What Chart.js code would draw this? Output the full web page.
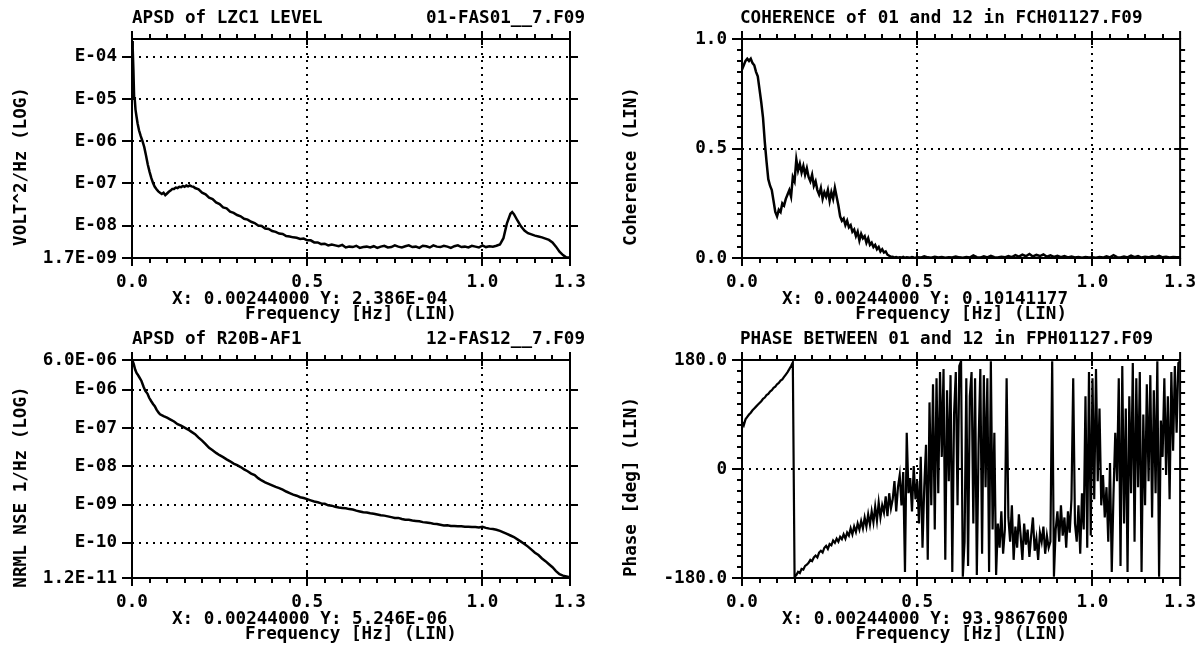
<!DOCTYPE html>
<html>
<head>
<meta charset="utf-8">
<script src="https://cdn.jsdelivr.net/npm/chart.js@4.4.1/dist/chart.umd.min.js"></script>
<style>
  html, body { margin: 0; padding: 0; background: #fff; width: 1202px; height: 649px; overflow: hidden; }
  canvas { position: absolute; }
</style>
</head>
<body>
<canvas id="c1" width="601" height="325" style="left:0px;top:0px"></canvas>
<canvas id="c2" width="601" height="325" style="left:601px;top:0px"></canvas>
<canvas id="c3" width="601" height="324" style="left:0px;top:325px"></canvas>
<canvas id="c4" width="601" height="324" style="left:601px;top:325px"></canvas>
<script>
// ---------------- DATA ----------------
const X_TICK_VALUES = [0, 0.5, 1.0, 1.25];
const X_TICK_LABELS = ['0.0', '0.5', '1.0', '1.3'];
const X_GRID_VALUES = [0.5, 1.0];

// Panel 1: APSD of LZC1 LEVEL (values as log10 of VOLT^2/Hz)
const lzcFreq = [
  0, 0.002, 0.004, 0.006, 0.008, 0.01, 0.013, 0.016, 0.02, 0.025,
  0.03, 0.035, 0.04, 0.045, 0.05, 0.055, 0.06, 0.065, 0.07, 0.075,
  0.08, 0.085, 0.09, 0.095, 0.1, 0.105, 0.11, 0.115, 0.12, 0.125,
  0.13, 0.135, 0.14, 0.145, 0.15, 0.155, 0.16, 0.165, 0.17, 0.175,
  0.18, 0.19, 0.2, 0.21, 0.22, 0.23, 0.24, 0.25, 0.26, 0.27,
  0.28, 0.29, 0.3, 0.31, 0.32, 0.33, 0.34, 0.35, 0.36, 0.37,
  0.38, 0.39, 0.4, 0.41, 0.42, 0.43, 0.44, 0.45, 0.46, 0.47,
  0.48, 0.49, 0.5, 0.51, 0.52, 0.53, 0.54, 0.55, 0.56, 0.57,
  0.58, 0.59, 0.6, 0.61, 0.62, 0.63, 0.64, 0.65, 0.66, 0.67,
  0.68, 0.69, 0.7, 0.71, 0.72, 0.73, 0.74, 0.75, 0.76, 0.77,
  0.78, 0.79, 0.8, 0.81, 0.82, 0.83, 0.84, 0.85, 0.86, 0.87,
  0.88, 0.89, 0.9, 0.91, 0.92, 0.93, 0.94, 0.95, 0.96, 0.97,
  0.98, 0.99, 1.0, 1.01, 1.02, 1.03, 1.04, 1.05, 1.06, 1.07,
  1.08, 1.085, 1.09, 1.1, 1.11, 1.12, 1.13, 1.14, 1.15, 1.16,
  1.17, 1.18, 1.19, 1.2, 1.21, 1.22, 1.23, 1.24, 1.25
];
const lzcLog10 = [
  -3.62, -3.80, -4.30, -4.95, -5.02, -5.25, -5.42, -5.58, -5.74, -5.88,
  -6.00, -6.14, -6.34, -6.55, -6.72, -6.87, -6.99, -7.08, -7.14, -7.19,
  -7.22, -7.25, -7.22, -7.28, -7.24, -7.20, -7.17, -7.13, -7.13, -7.10,
  -7.11, -7.08, -7.09, -7.06, -7.08, -7.05, -7.07, -7.05, -7.07, -7.08,
  -7.11, -7.14, -7.22, -7.26, -7.34, -7.37, -7.45, -7.49, -7.57, -7.59,
  -7.67, -7.70, -7.75, -7.78, -7.84, -7.86, -7.91, -7.94, -8.00, -8.01,
  -8.07, -8.08, -8.13, -8.15, -8.19, -8.20, -8.25, -8.26, -8.28, -8.29,
  -8.32, -8.31, -8.35, -8.35, -8.40, -8.40, -8.44, -8.43, -8.47, -8.45,
  -8.47, -8.49, -8.46, -8.52, -8.50, -8.51, -8.48, -8.53, -8.51, -8.50,
  -8.52, -8.49, -8.53, -8.50, -8.48, -8.52, -8.51, -8.47, -8.50, -8.52,
  -8.49, -8.47, -8.51, -8.50, -8.53, -8.48, -8.49, -8.52, -8.47, -8.50,
  -8.51, -8.48, -8.50, -8.53, -8.49, -8.47, -8.51, -8.50, -8.52, -8.48,
  -8.50, -8.52, -8.47, -8.51, -8.49, -8.50, -8.48, -8.45, -8.30, -7.95,
  -7.72, -7.68, -7.73, -7.88, -8.02, -8.12, -8.18, -8.21, -8.24, -8.26,
  -8.28, -8.31, -8.34, -8.40, -8.50, -8.62, -8.70, -8.76, -8.76
];
const lzcYTicks = [1.7e-9, 1e-8, 1e-7, 1e-6, 1e-5, 1e-4];
const lzcYLabels = ['1.7E-09', 'E-08', 'E-07', 'E-06', 'E-05', 'E-04'];
const lzcYGrid = [1e-8, 1e-7, 1e-6, 1e-5, 1e-4];

// Panel 2: Coherence of 01 and 12
const cohFreq = [
  0, 0.005, 0.01, 0.015, 0.02, 0.025, 0.03, 0.035, 0.04, 0.045,
  0.05, 0.055, 0.06, 0.065, 0.07, 0.075, 0.08, 0.085, 0.09, 0.095,
  0.1, 0.105, 0.11, 0.115, 0.12, 0.125, 0.13, 0.135, 0.14, 0.145,
  0.15, 0.155, 0.16, 0.165, 0.17, 0.175, 0.18, 0.185, 0.19, 0.195,
  0.2, 0.205, 0.21, 0.215, 0.22, 0.225, 0.23, 0.235, 0.24, 0.245,
  0.25, 0.255, 0.26, 0.265, 0.27, 0.275, 0.28, 0.285, 0.29, 0.295,
  0.3, 0.305, 0.31, 0.315, 0.32, 0.325, 0.33, 0.335, 0.34, 0.345,
  0.35, 0.355, 0.36, 0.365, 0.37, 0.375, 0.38, 0.385, 0.39, 0.395,
  0.4, 0.405, 0.41, 0.415, 0.42, 0.425, 0.43, 0.435, 0.44, 0.445,
  0.45, 0.455, 0.46, 0.465, 0.47, 0.475, 0.48, 0.485, 0.49, 0.495,
  0.5, 0.51, 0.52, 0.53, 0.54, 0.55, 0.56, 0.57, 0.58, 0.59,
  0.6, 0.61, 0.62, 0.63, 0.64, 0.65, 0.66, 0.67, 0.68, 0.69,
  0.7, 0.71, 0.72, 0.73, 0.74, 0.75, 0.76, 0.77, 0.78, 0.79,
  0.8, 0.81, 0.82, 0.83, 0.84, 0.85, 0.86, 0.87, 0.88, 0.89,
  0.9, 0.91, 0.92, 0.93, 0.94, 0.95, 0.96, 0.97, 0.98, 0.99,
  1.0, 1.01, 1.02, 1.03, 1.04, 1.05, 1.06, 1.07, 1.08, 1.09,
  1.1, 1.11, 1.12, 1.13, 1.14, 1.15, 1.16, 1.17, 1.18, 1.19,
  1.2, 1.21, 1.22, 1.23, 1.24, 1.25
];
const cohValues = [
  0.86, 0.88, 0.90, 0.91, 0.90, 0.91, 0.89, 0.88, 0.85, 0.83,
  0.77, 0.71, 0.64, 0.53, 0.44, 0.36, 0.33, 0.31, 0.26, 0.21,
  0.19, 0.22, 0.21, 0.25, 0.24, 0.27, 0.29, 0.31, 0.28, 0.37,
  0.35, 0.45, 0.40, 0.43, 0.39, 0.42, 0.38, 0.41, 0.37, 0.35,
  0.38, 0.33, 0.35, 0.31, 0.29, 0.32, 0.27, 0.30, 0.28, 0.31,
  0.26, 0.30, 0.27, 0.32, 0.28, 0.24, 0.19, 0.17, 0.18, 0.15,
  0.17, 0.14, 0.15, 0.12, 0.13, 0.10, 0.12, 0.08, 0.11, 0.09,
  0.10, 0.07, 0.09, 0.06, 0.07, 0.05, 0.06, 0.04, 0.05, 0.03,
  0.04, 0.025, 0.03, 0.015, 0.01, 0.005, 0.006, 0.002, 0.004, 0.001,
  0.003, 0.002, 0.005, 0.001, 0.003, 0.002, 0.001, 0.004, 0.002, 0.001,
  0.003, 0.002, 0.008, 0.003, 0.001, 0.006, 0.002, 0.004, 0.001, 0.003,
  0.002, 0.007, 0.003, 0.001, 0.005, 0.002, 0.012, 0.004, 0.002, 0.008,
  0.003, 0.010, 0.004, 0.002, 0.006, 0.003, 0.009, 0.004, 0.013, 0.006,
  0.015, 0.008, 0.018, 0.007, 0.014, 0.009, 0.016, 0.006, 0.012, 0.005,
  0.010, 0.004, 0.009, 0.003, 0.007, 0.002, 0.005, 0.001, 0.004, 0.002,
  0.003, 0.001, 0.005, 0.002, 0.008, 0.003, 0.013, 0.004, 0.002, 0.007,
  0.003, 0.011, 0.004, 0.009, 0.002, 0.006, 0.003, 0.008, 0.004, 0.010,
  0.003, 0.006, 0.002, 0.005, 0.003, 0.004
];
const cohYTicks = [0, 0.5, 1.0];
const cohYLabels = ['0.0', '0.5', '1.0'];
const cohYGrid = [0.5];

// Panel 3: APSD of R20B-AF1 (values as log10 of NRML NSE 1/Hz)
const r20Freq = [
  0, 0.002, 0.005, 0.009, 0.013, 0.016, 0.02, 0.027, 0.033, 0.038,
  0.044, 0.049, 0.055, 0.06, 0.065, 0.07, 0.076,
  0.08, 0.09, 0.1, 0.11, 0.12, 0.13, 0.14, 0.15, 0.16, 0.17,
  0.18, 0.19, 0.2, 0.21, 0.22, 0.23, 0.24, 0.25, 0.26, 0.27,
  0.28, 0.29, 0.3, 0.31, 0.32, 0.33, 0.34, 0.35, 0.36, 0.37,
  0.38, 0.39, 0.4, 0.41, 0.42, 0.43, 0.44, 0.45, 0.46, 0.47,
  0.48, 0.49, 0.5, 0.51, 0.52, 0.53, 0.54, 0.55, 0.56, 0.57,
  0.58, 0.59, 0.6, 0.61, 0.62, 0.63, 0.64, 0.65, 0.66, 0.67,
  0.68, 0.69, 0.7, 0.71, 0.72, 0.73, 0.74, 0.75, 0.76, 0.77,
  0.78, 0.79, 0.8, 0.81, 0.82, 0.83, 0.84, 0.85, 0.86, 0.87,
  0.88, 0.89, 0.9, 0.91, 0.92, 0.93, 0.94, 0.95, 0.96, 0.97,
  0.98, 0.99, 1.0, 1.01, 1.02, 1.03, 1.04, 1.05, 1.06, 1.07,
  1.08, 1.09, 1.1, 1.11, 1.12, 1.13, 1.14, 1.15, 1.16, 1.17,
  1.18, 1.19, 1.2, 1.21, 1.22, 1.23, 1.24, 1.25
];
const r20Log10 = [
  -5.22, -5.25, -5.33, -5.47, -5.56, -5.60, -5.66, -5.77, -5.92, -6.03,
  -6.10, -6.21, -6.30, -6.37, -6.43, -6.52, -6.60,
  -6.64, -6.69, -6.73, -6.78, -6.83, -6.90, -6.94, -6.99, -7.04, -7.10,
  -7.16, -7.25, -7.33, -7.42, -7.52, -7.58, -7.65, -7.71, -7.76, -7.82,
  -7.87, -7.93, -7.97, -8.02, -8.08, -8.13, -8.19, -8.23, -8.31, -8.37,
  -8.42, -8.46, -8.50, -8.54, -8.57, -8.61, -8.66, -8.70, -8.74, -8.77,
  -8.81, -8.83, -8.86, -8.89, -8.92, -8.94, -8.97, -8.98, -9.02, -9.03,
  -9.06, -9.08, -9.09, -9.10, -9.12, -9.13, -9.16, -9.18, -9.20, -9.21,
  -9.23, -9.24, -9.26, -9.28, -9.29, -9.31, -9.33, -9.35, -9.35, -9.38,
  -9.40, -9.40, -9.42, -9.43, -9.44, -9.46, -9.47, -9.48, -9.50, -9.51,
  -9.53, -9.55, -9.54, -9.56, -9.56, -9.57, -9.57, -9.58, -9.58, -9.59,
  -9.59, -9.60, -9.58, -9.61, -9.63, -9.64, -9.66, -9.69, -9.73, -9.77,
  -9.81, -9.85, -9.91, -9.97, -10.03, -10.10, -10.18, -10.26, -10.32, -10.41,
  -10.48, -10.56, -10.64, -10.74, -10.82, -10.86, -10.88, -10.90
];
const r20YTicks = [1.2e-11, 1e-10, 1e-9, 1e-8, 1e-7, 1e-6, 6.0e-6];
const r20YLabels = ['1.2E-11', 'E-10', 'E-09', 'E-08', 'E-07', 'E-06', '6.0E-06'];
const r20YGrid = [1e-10, 1e-9, 1e-8, 1e-7, 1e-6];

// Panel 4: Phase between 01 and 12 (degrees)
const phaseFreq = [
  0, 0.005, 0.01, 0.015, 0.02, 0.025, 0.03, 0.035, 0.04, 0.045,
  0.05, 0.055, 0.06, 0.065, 0.07, 0.075, 0.08, 0.085, 0.09, 0.095,
  0.1, 0.105, 0.11, 0.115, 0.12, 0.125, 0.13, 0.135, 0.14, 0.145,
  0.15, 0.155, 0.16, 0.165, 0.17, 0.175, 0.18, 0.185, 0.19, 0.195,
  0.2, 0.205, 0.21, 0.215, 0.22, 0.225, 0.23, 0.235, 0.24, 0.245,
  0.25, 0.255, 0.26, 0.265, 0.27, 0.275, 0.28, 0.285, 0.29, 0.295,
  0.3, 0.305, 0.31, 0.315, 0.32, 0.325, 0.33, 0.335, 0.34, 0.345,
  0.35, 0.355, 0.36, 0.365, 0.37, 0.375, 0.38, 0.385, 0.39, 0.395,
  0.4, 0.405, 0.41, 0.415, 0.42, 0.425, 0.43, 0.435, 0.44, 0.445,
  0.45, 0.455, 0.46, 0.465, 0.47, 0.475, 0.48, 0.485, 0.49, 0.495,
  0.5, 0.505, 0.51, 0.515, 0.52, 0.525, 0.53, 0.535, 0.54, 0.545,
  0.55, 0.555, 0.56, 0.565, 0.57, 0.575, 0.58, 0.585, 0.59, 0.595,
  0.6, 0.605, 0.61, 0.615, 0.62, 0.625, 0.63, 0.635, 0.64, 0.645,
  0.65, 0.655, 0.66, 0.665, 0.67, 0.675, 0.68, 0.685, 0.69, 0.695,
  0.7, 0.705, 0.71, 0.715, 0.72, 0.725, 0.73, 0.735, 0.74, 0.745,
  0.75, 0.755, 0.76, 0.765, 0.77, 0.775, 0.78, 0.785, 0.79, 0.795,
  0.8, 0.805, 0.81, 0.815, 0.82, 0.825, 0.83, 0.835, 0.84, 0.845,
  0.85, 0.855, 0.86, 0.865, 0.87, 0.875, 0.88, 0.885, 0.89, 0.895,
  0.9, 0.905, 0.91, 0.915, 0.92, 0.925, 0.93, 0.935, 0.94, 0.945,
  0.95, 0.955, 0.96, 0.965, 0.97, 0.975, 0.98, 0.985, 0.99, 0.995,
  1.0, 1.005, 1.01, 1.015, 1.02, 1.025, 1.03, 1.035, 1.04, 1.045,
  1.05, 1.055, 1.06, 1.065, 1.07, 1.075, 1.08, 1.085, 1.09, 1.095,
  1.1, 1.105, 1.11, 1.115, 1.12, 1.125, 1.13, 1.135, 1.14, 1.145,
  1.15, 1.155, 1.16, 1.165, 1.17, 1.175, 1.18, 1.185, 1.19, 1.195,
  1.2, 1.205, 1.21, 1.215, 1.22, 1.225, 1.23, 1.235, 1.24, 1.245,
  1.25
];
const phaseDeg = [
  78, 72, 82, 86, 90, 93, 97, 100, 103, 106,
  109, 112, 116, 118, 122, 124, 128, 130, 134, 136,
  140, 142, 146, 148, 152, 156, 160, 165, 170, 176,
  -178, -175, -170, -172, -165, -166, -160, -158, -155, -150,
  -152, -146, -143, -146, -138, -135, -138, -130, -127, -132,
  -124, -126, -118, -122, -115, -120, -112, -116, -108, -115,
  -105, -110, -98, -108, -95, -104, -90, -100, -86, -98,
  -80, -95, -75, -92, -70, -88, -62, -85, -55, -80,
  -60, -72, -45, -78, -40, -65, -50, -20, -70, -30,
  -10, -60, -5, -170, 60, -40, -15, -70, 5, -50,
  -20, -90, 20, -130, -30, 40, -150, 110, -60, 140,
  -100, 150, -40, 160, 20, 165, -150, 130, -20, 155,
  -170, 90, 160, -60, 170, 178, -178, -120, 150, -160,
  120, 160, -90, 150, -175, 40, 165, -140, 155, -30,
  150, -170, 178, -100, 60, -175, -90, -130, -70, -140,
  -100, 150, -80, -120, -60, -150, -95, -130, -75, -110,
  -150, -90, -125, -100, -145, -110, -80, -135, -115, -150,
  -105, -120, -95, -140, -110, -130, -120, 178, -178, -100,
  -70, -120, -60, -110, -80, -130, -70, -105, -50, 150,
  -90, -120, -60, -140, -40, -100, 120, -130, 160, -110,
  150, -50, 165, -20, 100, -60, -10, -80, -30, -120,
  10, -170, -40, 60, -20, 150, -160, 170, -90, 100,
  -170, 120, -40, 175, -120, 150, -30, 160, -170, 90,
  -60, 140, -20, 155, -80, 130, -40, 178, -178, 80,
  20, 150, -10, 120, -50, 160, 30, 170, 60, 175,
  178
];
const phaseYTicks = [-180, 0, 180];
const phaseYLabels = ['-180.0', '0', '180.0'];
const phaseYGrid = [0];

// ---------------- RENDERING ----------------
const FONT_FAMILY = '"DejaVu Sans Mono", "Liberation Mono", monospace';
const FONT_SIZE = 17.6;
const FONT = { family: FONT_FAMILY, size: FONT_SIZE, weight: 'bold' };
const CANVAS_W = 601;

function line(ctx, x1, y1, x2, y2) {
  ctx.beginPath(); ctx.moveTo(x1, y1); ctx.lineTo(x2, y2); ctx.stroke();
}

function decoPlugin(cfg) {
  return {
    id: 'deco' + cfg.id,
    beforeDatasetsDraw(chart) {
      const { ctx, chartArea: a, scales: { x, y } } = chart;
      ctx.save();
      ctx.strokeStyle = '#000';
      ctx.lineWidth = 2;
      ctx.setLineDash([2, 5]);
      X_GRID_VALUES.forEach(v => {
        const px = Math.round(x.getPixelForValue(v));
        line(ctx, px, a.top, px, a.bottom);
      });
      cfg.yGrid.forEach(v => {
        const py = Math.round(y.getPixelForValue(v));
        line(ctx, a.left, py, a.right, py);
      });
      ctx.restore();
    },
    afterDatasetsDraw(chart) {
      const { ctx, chartArea: a, scales: { x, y } } = chart;
      ctx.save();
      ctx.strokeStyle = '#000';
      ctx.lineWidth = 2;
      ctx.setLineDash([]);
      ctx.strokeRect(a.left, a.top, a.right - a.left, a.bottom - a.top);
      for (let k = 1; k < 25; k++) {
        const px = Math.round(x.getPixelForValue(k * 0.05));
        line(ctx, px, a.bottom, px, a.bottom + 5);
        line(ctx, px, a.top, px, a.top - 5);
      }
      X_GRID_VALUES.forEach(v => {
        const px = Math.round(x.getPixelForValue(v));
        line(ctx, px, a.bottom - 6, px, a.bottom + 8);
        line(ctx, px, a.top - 8, px, a.top + 6);
      });
      line(ctx, a.left, a.bottom, a.left, a.bottom + 8);
      line(ctx, a.right, a.bottom, a.right, a.bottom + 8);
      line(ctx, a.left, a.top, a.left, a.top - 8);
      line(ctx, a.right, a.top, a.right, a.top - 8);
      cfg.yTicks.forEach(v => {
        const py = Math.round(y.getPixelForValue(v));
        line(ctx, a.left - 10, py, a.left, py);
      });
      cfg.yGrid.forEach(v => {
        const py = Math.round(y.getPixelForValue(v));
        line(ctx, a.right - (cfg.yType === 'linear' ? 6 : 0), py, a.right + 8, py);
      });
      if (cfg.yType === 'linear') {
        const step = (cfg.yMax - cfg.yMin) / 20;
        for (let k = 1; k < 20; k++) {
          const py = Math.round(y.getPixelForValue(cfg.yMin + k * step));
          line(ctx, a.left - 5, py, a.left, py);
          line(ctx, a.right, py, a.right + 5, py);
        }
      }
      ctx.restore();
    },
    afterDraw(chart) {
      const { ctx, chartArea: a } = chart;
      ctx.save();
      ctx.font = 'bold ' + FONT_SIZE + 'px ' + FONT_FAMILY;
      ctx.fillStyle = '#000';
      ctx.textBaseline = 'middle';
      ctx.textAlign = 'left';
      ctx.fillText(cfg.title, a.left + cfg.titleDx, a.top - 21);
      if (cfg.title2) {
        ctx.textAlign = 'right';
        ctx.fillText(cfg.title2, a.right + 15, a.top - 21);
      }
      ctx.textAlign = 'left';
      ctx.fillText(cfg.readout, a.left + 40, a.bottom + 41);
      ctx.textAlign = 'center';
      ctx.fillText('Frequency [Hz] (LIN)', (a.left + a.right) / 2, a.bottom + 56);
      ctx.translate(a.left - 111, (a.top + a.bottom) / 2 + 18);
      ctx.rotate(-Math.PI / 2);
      ctx.fillText(cfg.yTitle, 0, 0);
      ctx.restore();
    }
  };
}

function buildPanel(cfg) {
  const canvas = document.getElementById(cfg.id);
  const H = canvas.height;
  const points = cfg.freq.map((f, i) => ({ x: f, y: cfg.values[i] }));
  return new Chart(canvas, {
    type: 'line',
    data: {
      datasets: [{
        data: points,
        borderColor: '#000',
        borderWidth: cfg.lineWidth,
        pointRadius: 0,
        tension: 0,
        fill: false
      }]
    },
    options: {
      responsive: false,
      animation: false,
      devicePixelRatio: 1,
      events: [],
      layout: { padding: { left: 0, top: cfg.T, right: CANVAS_W - cfg.R, bottom: 0 } },
      plugins: { legend: { display: false }, tooltip: { enabled: false }, title: { display: false } },
      scales: {
        x: {
          type: 'linear',
          min: 0,
          max: 1.25,
          afterFit: s => { s.height = H - cfg.B; },
          afterBuildTicks: s => { s.ticks = X_TICK_VALUES.map(v => ({ value: v })); },
          ticks: {
            autoSkip: false, maxRotation: 0, minRotation: 0, padding: 6,
            color: '#000', font: FONT,
            callback: (v, i) => X_TICK_LABELS[i]
          },
          grid: { display: false, drawTicks: true, tickLength: 8 },
          border: { display: false }
        },
        y: {
          type: cfg.yType,
          min: cfg.yMin,
          max: cfg.yMax,
          afterFit: s => { s.width = cfg.L; },
          afterBuildTicks: s => { s.ticks = cfg.yTicks.map(v => ({ value: v })); },
          ticks: {
            autoSkip: false, padding: 5,
            color: '#000', font: FONT,
            callback: (v, i) => cfg.yLabels[i]
          },
          grid: { display: false, drawTicks: true, tickLength: 10 },
          border: { display: false }
        }
      }
    },
    plugins: [decoPlugin(cfg)]
  });
}

buildPanel({
  id: 'c1', L: 132, R: 570, T: 39, B: 258,
  freq: lzcFreq, values: lzcLog10.map(e => Math.pow(10, e)),
  yType: 'logarithmic', yMin: 1.7e-9, yMax: 2.66e-4,
  yTicks: lzcYTicks, yLabels: lzcYLabels, yGrid: lzcYGrid,
  title: 'APSD of LZC1 LEVEL', titleDx: 0, title2: '01-FAS01__7.F09',
  readout: 'X: 0.00244000 Y: 2.386E-04', yTitle: 'VOLT^2/Hz (LOG)', lineWidth: 2.5
});
buildPanel({
  id: 'c2', L: 141, R: 580, T: 39, B: 258,
  freq: cohFreq, values: cohValues,
  yType: 'linear', yMin: 0, yMax: 1.0,
  yTicks: cohYTicks, yLabels: cohYLabels, yGrid: cohYGrid,
  title: 'COHERENCE of 01 and 12 in FCH01127.F09', titleDx: -2, title2: null,
  readout: 'X: 0.00244000 Y: 0.10141177', yTitle: 'Coherence (LIN)', lineWidth: 2.5
});
buildPanel({
  id: 'c3', L: 132, R: 570, T: 35, B: 253,
  freq: r20Freq, values: r20Log10.map(e => Math.pow(10, e)),
  yType: 'logarithmic', yMin: 1.2e-11, yMax: 6.0e-6,
  yTicks: r20YTicks, yLabels: r20YLabels, yGrid: r20YGrid,
  title: 'APSD of R20B-AF1', titleDx: 0, title2: '12-FAS12__7.F09',
  readout: 'X: 0.00244000 Y: 5.246E-06', yTitle: 'NRML NSE 1/Hz (LOG)', lineWidth: 2.5
});
buildPanel({
  id: 'c4', L: 141, R: 580, T: 35, B: 253,
  freq: phaseFreq, values: phaseDeg,
  yType: 'linear', yMin: -180, yMax: 180,
  yTicks: phaseYTicks, yLabels: phaseYLabels, yGrid: phaseYGrid,
  title: 'PHASE BETWEEN 01 and 12 in FPH01127.F09', titleDx: -2, title2: null,
  readout: 'X: 0.00244000 Y: 93.9867600', yTitle: 'Phase [deg] (LIN)', lineWidth: 2.2
});
</script>
</body>
</html>
